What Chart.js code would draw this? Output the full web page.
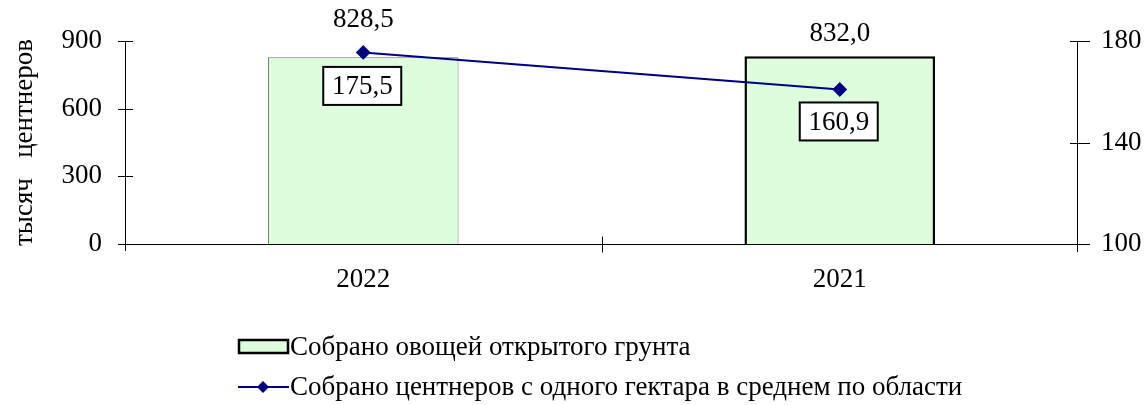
<!DOCTYPE html>
<html>
<head>
<meta charset="utf-8">
<script src="https://cdn.jsdelivr.net/npm/chart.js@4"></script>
<style>
html,body{margin:0;padding:0;background:#fff;}
#wrap{width:1144px;height:405px;position:relative;}
</style>
</head>
<body>
<div id="wrap"><canvas id="c" width="1144" height="405"></canvas></div>
<script>
const categories = ['2022', '2021'];
const harvestValues = [828.5, 832.0];
const yieldValues = [175.5, 160.9];
const leftTicks = [0, 300, 600, 900];
const rightTicks = [100, 140, 180];
const seriesNames = ['Собрано овощей открытого грунта', 'Собрано центнеров с одного гектара в среднем по области'];
const axisTitle = 'тысяч   центнеров';

const FONT = '"Liberation Serif", "Times New Roman", serif';
const FS = 27;
const fmt = v => v.toFixed(1).replace('.', ',');

const drawPlugin = {
  id: 'custom',
  afterDatasetsDraw(chart) {
    const ctx = chart.ctx;
    const ca = chart.chartArea;
    const x = chart.scales.x, y = chart.scales.y, y1 = chart.scales.y1;
    ctx.save();
    ctx.strokeStyle = '#000';
    ctx.lineWidth = 1;
    // left axis
    ctx.beginPath();
    ctx.moveTo(ca.left + 0.5, ca.top); ctx.lineTo(ca.left + 0.5, ca.bottom + 7);
    leftTicks.forEach(t => { const py = Math.round(y.getPixelForValue(t)) + 0.5; ctx.moveTo(ca.left - 7, py); ctx.lineTo(ca.left + 8, py); });
    // right axis
    ctx.moveTo(ca.right - 0.5, ca.top); ctx.lineTo(ca.right - 0.5, ca.bottom + 8);
    rightTicks.forEach(t => { const py = Math.round(y1.getPixelForValue(t)) + 0.5; ctx.moveTo(ca.right - 8, py); ctx.lineTo(ca.right + 12, py); });
    // x axis
    const by = Math.round(y.getPixelForValue(0)) + 0.5;
    ctx.moveTo(ca.left - 7, by); ctx.lineTo(ca.right, by);
    for (let i = 0; i < categories.length - 1; i++) {
      const mx = Math.round((x.getPixelForValue(i) + x.getPixelForValue(i + 1)) / 2) + 0.5;
      ctx.moveTo(mx, by - 8); ctx.lineTo(mx, by + 8);
    }
    ctx.stroke();

    ctx.font = FS + 'px ' + FONT;
    ctx.fillStyle = '#000';
    ctx.textAlign = 'center';
    ctx.textBaseline = 'middle';
    // bar labels
    const barMeta = chart.getDatasetMeta(0);
    const barOffsets = [37, 22];
    barMeta.data.forEach((el, i) => {
      ctx.fillText(fmt(harvestValues[i]), el.x, el.y - barOffsets[i]);
    });
    // line labels in boxes
    const lineMeta = chart.getDatasetMeta(1);
    const lineOffsets = [33.5, 32];
    lineMeta.data.forEach((el, i) => {
      const cx = el.x - 1, cy = el.y + lineOffsets[i];
      const w = 78, h = 38;
      ctx.fillStyle = '#fff';
      ctx.fillRect(cx - w / 2, cy - h / 2, w, h);
      ctx.lineWidth = 2;
      ctx.strokeStyle = '#000';
      ctx.strokeRect(cx - w / 2, cy - h / 2, w, h);
      ctx.fillStyle = '#000';
      ctx.fillText(fmt(yieldValues[i]), cx, cy + 1);
    });

    // legend
    ctx.textAlign = 'left';
    ctx.fillStyle = '#dcfedc';
    ctx.fillRect(239, 340, 49, 13);
    ctx.lineWidth = 2.5;
    ctx.strokeStyle = '#000';
    ctx.strokeRect(239, 340, 49, 13);
    ctx.fillStyle = '#000';
    ctx.fillText(seriesNames[0], 290, 348);
    ctx.strokeStyle = '#000080';
    ctx.lineWidth = 2;
    ctx.beginPath(); ctx.moveTo(238, 387); ctx.lineTo(289, 387); ctx.stroke();
    ctx.fillStyle = '#000080';
    ctx.beginPath(); ctx.moveTo(263, 381); ctx.lineTo(269, 387); ctx.lineTo(263, 393); ctx.lineTo(257, 387); ctx.closePath(); ctx.fill();
    ctx.fillStyle = '#000';
    ctx.fillText(seriesNames[1], 290, 388);
    ctx.restore();
  }
};

new Chart(document.getElementById('c'), {
  data: {
    labels: categories,
    datasets: [
      {
        type: 'bar',
        label: seriesNames[0],
        data: harvestValues,
        yAxisID: 'y',
        backgroundColor: '#dcfedc',
        borderColor: ['#707070', '#000000'],
        borderWidth: [1, 2.5],
        barPercentage: 0.4,
        categoryPercentage: 1.0,
        order: 2
      },
      {
        type: 'line',
        label: seriesNames[1],
        data: yieldValues,
        yAxisID: 'y1',
        borderColor: '#000080',
        backgroundColor: '#000080',
        borderWidth: 2,
        pointStyle: 'rectRot',
        pointRadius: 6,
        pointHoverRadius: 6,
        fill: false,
        tension: 0,
        order: 1
      }
    ]
  },
  options: {
    responsive: false,
    animation: false,
    devicePixelRatio: 1,
    layout: { padding: { top: 41, left: 0, right: 0, bottom: 0 } },
    plugins: { legend: { display: false }, tooltip: { enabled: false } },
    scales: {
      x: {
        type: 'category',
        offset: true,
        grid: { display: false, drawTicks: false },
        border: { display: false },
        ticks: { color: '#000', font: { family: FONT, size: FS }, padding: 20, maxRotation: 0 },
        afterFit(s) { s.height = 161; }
      },
      y: {
        position: 'left',
        min: 0, max: 900,
        afterBuildTicks(s) { s.ticks = leftTicks.map(v => ({ value: v })); },
        grid: { display: false, drawTicks: false },
        border: { display: false },
        ticks: { color: '#000', font: { family: FONT, size: FS }, padding: 23 },
        title: { display: true, text: axisTitle, color: '#000', font: { family: FONT, size: FS }, padding: { top: 9, bottom: 0 } },
        afterFit(s) { s.width = 125; }
      },
      y1: {
        position: 'right',
        min: 100, max: 180,
        afterBuildTicks(s) { s.ticks = rightTicks.map(v => ({ value: v })); },
        grid: { display: false, drawTicks: false },
        border: { display: false },
        ticks: { color: '#000', font: { family: FONT, size: FS }, padding: 23 },
        afterFit(s) { s.width = 66; }
      }
    }
  },
  plugins: [drawPlugin]
});
</script>
</body>
</html>
